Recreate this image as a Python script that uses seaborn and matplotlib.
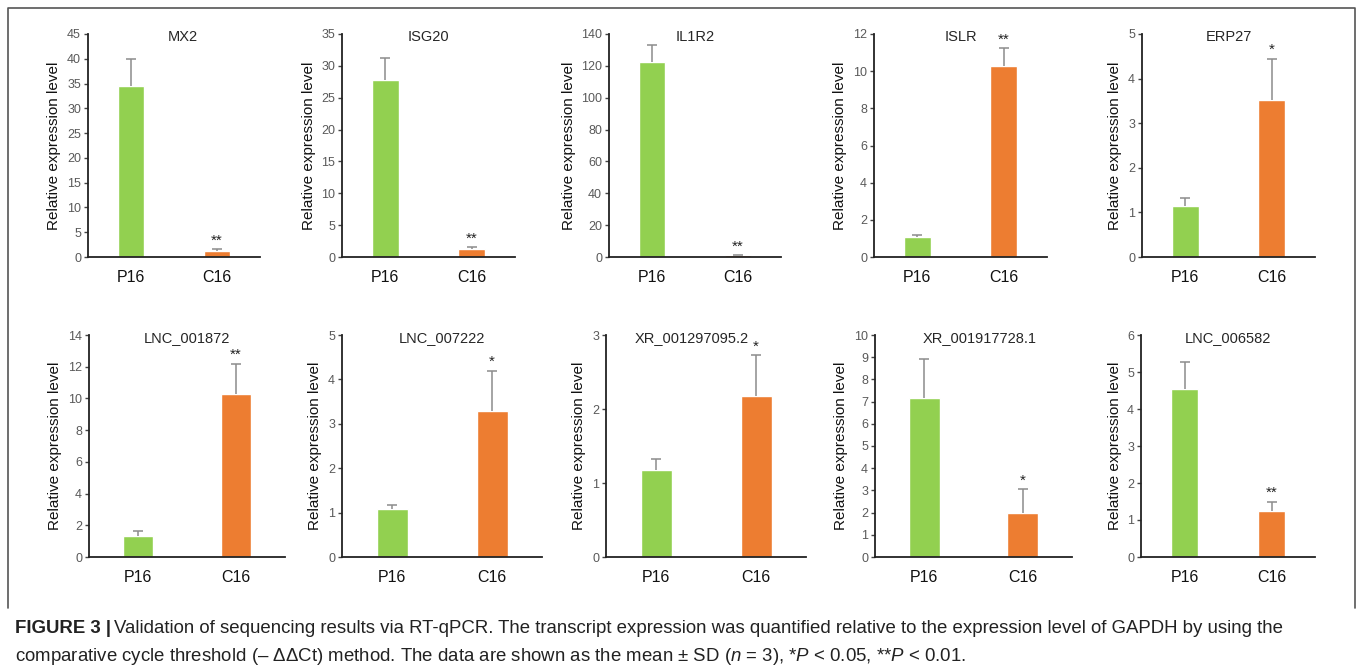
import numpy as np
import pandas as pd
import matplotlib
matplotlib.use("Agg")
import matplotlib.pyplot as plt
import seaborn as sns

# values (mean and upper SD tip)
genes = ["MX2", "ISG20", "IL1R2", "ISLR", "ERP27",
         "LNC_001872", "LNC_007222", "XR_001297095.2", "XR_001917728.1", "LNC_006582"]
groups = ["P16", "C16"]
p16_mean = [34.5, 27.8, 122.5, 1.05, 1.15, 1.30, 1.07, 1.17, 7.15, 4.55]
c16_mean = [1.30, 1.20, 1.00, 10.3, 3.52, 10.25, 3.28, 2.17, 2.00, 1.25]
p16_sd = [5.5, 3.5, 10.5, 0.15, 0.18, 0.35, 0.11, 0.16, 1.78, 0.73]
c16_sd = [0.30, 0.30, 0.30, 0.95, 0.93, 1.95, 0.92, 0.56, 1.05, 0.25]
signif = ["**", "**", "**", "**", "*", "**", "*", "*", "*", "**"]
y_max = [45, 35, 140, 12, 5, 14, 5, 3, 10, 6]
y_step = [5, 5, 20, 2, 1, 2, 1, 1, 1, 1]

green = "#92D050"
orange = "#ED7D31"

sns.set_style("white")
plt.rcParams["font.family"] = ["Liberation Sans", "DejaVu Sans"]
plt.rcParams["mathtext.fontset"] = "custom"
plt.rcParams["mathtext.it"] = "Liberation Sans:italic"
plt.rcParams["mathtext.rm"] = "Liberation Sans"

W, H = 1357, 672
fig = plt.figure(figsize=(W / 100, H / 100), dpi=100)

# axes boxes in pixels: left, width (top row y 34-257, bottom row 335-557)
boxes = [(88, 172), (342, 173), (609, 172), (874, 173), (1142, 173),
         (89, 196), (342, 200), (606, 200), (875, 197), (1141, 174)]
title_x = [0.55, 0.5, 0.5, 0.5, 0.5, 0.5, 0.5, 0.43, 0.53, 0.5]

for i, gene in enumerate(genes):
    left, width = boxes[i]
    if i < 5:
        top, bot = 34, 257
    else:
        top, bot = 335, 557
    ax = fig.add_axes([left / W, 1 - bot / H, width / W, (bot - top) / H])
    df = pd.DataFrame({"group": groups,
                       "value": [p16_mean[i], c16_mean[i]]})
    sns.barplot(data=df, x="group", y="value", hue="group",
                palette=[green, orange], legend=False, width=0.31,
                saturation=1, ax=ax)
    eb = ax.errorbar([0, 1], df["value"], yerr=[[0, 0], [p16_sd[i], c16_sd[i]]],
                     fmt="none", ecolor="#8c8c8c", elinewidth=1.1, capsize=3.5,
                     capthick=1.1, zorder=1)
    eb[1][0].set_visible(False)  # only the upper cap
    ax.annotate(signif[i], (1, c16_mean[i] + c16_sd[i]),
                xytext=(0, 1), textcoords="offset points",
                ha="center", va="bottom", fontsize=11, color="#222222")
    ax.set_xlim(-0.5, 1.5)
    ax.set_ylim(0, y_max[i])
    ax.set_yticks(np.arange(0, y_max[i] + 0.01, y_step[i]))
    ax.set_xlabel("")
    ax.set_ylabel("Relative expression level", fontsize=11, color="#111111")
    ax.set_title(gene, fontsize=10.5, pad=0, x=title_x[i], y=0.985, va="center")
    sns.despine(ax=ax)
    for s in ["left", "bottom"]:
        ax.spines[s].set_color("#222222")
        ax.spines[s].set_linewidth(1.3)
    ax.tick_params(axis="y", which="both", left=True, length=3, width=1,
                   color="#444444", labelsize=9, labelcolor="#595959", pad=2)
    ax.tick_params(axis="x", bottom=False, labelsize=11.5, pad=6,
                   labelcolor="#111111")

# frame around the panels
frame = plt.Line2D([8 / W, 8 / W, 1355 / W, 1355 / W],
                   [1 - 608 / H, 1 - 8 / H, 1 - 8 / H, 1 - 608 / H],
                   transform=fig.transFigure, color="#555555", lw=1.2)
fig.add_artist(frame)

# caption
cap_size = 13.4
t1 = fig.text(15 / W, 1 - 633 / H, "FIGURE 3 |", fontsize=cap_size, fontweight="bold",
              va="baseline", ha="left", color="#222222")
fig.canvas.draw()
bb = t1.get_window_extent(fig.canvas.get_renderer())
fig.text((bb.x1 + 3) / W, 1 - 633 / H,
         "Validation of sequencing results via RT-qPCR. The transcript expression was "
         "quantified relative to the expression level of GAPDH by using the",
         fontsize=cap_size, va="baseline", ha="left", color="#222222")
fig.text(15 / W, 1 - 661 / H,
         "comparative cycle threshold (\u2013 \u0394\u0394Ct) method. The data are shown as "
         "the mean \u00b1 SD ($\\it{n}$ = 3), *$\\it{P}$ < 0.05, **$\\it{P}$ < 0.01.",
         fontsize=cap_size, va="baseline", ha="left", color="#222222")

fig.savefig("out.png", dpi=100)
